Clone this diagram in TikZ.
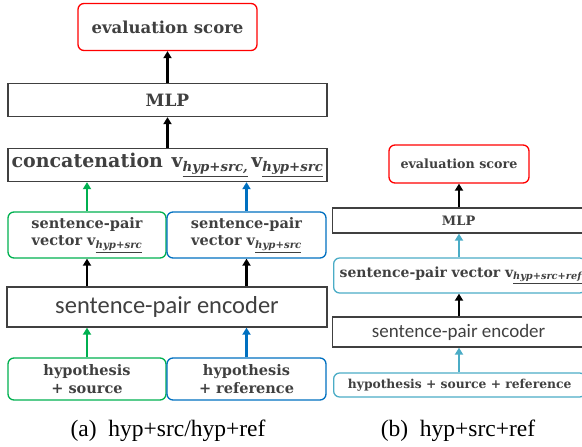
\documentclass[tikz,border=0pt]{standalone}
\usepackage{fontspec}
\setmainfont{Liberation Serif}
\newfontfamily\boxfont{DejaVu Serif}
\newfontfamily\encfont{Carlito}
\usepackage{xcolor}
\usetikzlibrary{arrows.meta}

\definecolor{txtgray}{HTML}{404040}
\definecolor{boxgray}{HTML}{404040}
\definecolor{srcgreen}{HTML}{00B050}
\definecolor{refblue}{HTML}{0070C0}
\definecolor{allblue}{HTML}{4BACC6}
\definecolor{scorered}{HTML}{FF0000}

\newcommand{\vsub}[1]{v\textsubscript{\itshape\underline{#1}}}
\newcommand{\fs}[1]{\boxfont\bfseries\fontsize{#1}{1.2\dimexpr#1pt\relax}\selectfont}

\begin{document}
\begin{tikzpicture}[x=1pt, y=-1pt, >={Triangle[length=7pt,width=8pt]},
  every box/.style={draw=boxgray, line width=1.3pt, text=txtgray, inner sep=2pt},
  plain box/.style={every box},
  round box/.style={every box, rounded corners=6pt, align=center},
  score box/.style={round box, draw=scorered},
  src box/.style={round box, draw=srcgreen},
  ref box/.style={round box, draw=refblue},
  all box/.style={round box, draw=allblue},
  flow/.style={->, line width=2.4pt},
  caption/.style={font=\fontsize{23.5}{26}\selectfont, text=black}]

\useasboundingbox (0,0) rectangle (582,447);
\clip (0,0) rectangle (582,447);

% (a) hyp+src/hyp+ref
\node [score box, minimum width=179pt, minimum height=47pt, font=\fs{16.5}] (scoreA) at (167.5,27) {evaluation score};
\node [plain box, minimum width=319pt, minimum height=33pt, font=\fs{17}] (mlpA) at (167.5,100) {MLP};
\node [plain box, minimum width=319pt, minimum height=33pt, font=\fs{19}] (concatA) at (167.5,165)
  {concatenation\ \hspace{2pt}\vsub{hyp+src,}\,\vsub{hyp+src}};
\node [src box, minimum width=158pt, minimum height=46pt, font=\fs{14.5}] (vecS) at (87,235) {sentence-pair\\vector \vsub{hyp+src}};
\node [ref box, minimum width=159pt, minimum height=46pt, font=\fs{14.5}] (vecR) at (246.5,235) {sentence-pair\\vector \vsub{hyp+src}};
\node [plain box, minimum width=320pt, minimum height=40pt, font=\encfont\fontsize{24.5}{28}\selectfont] (encA) at (167,307) {sentence-pair encoder};
\node [src box, minimum width=158pt, minimum height=42pt, font=\fs{14.5}] (inS) at (87,379) {hypothesis\\+ source};
\node [ref box, minimum width=159pt, minimum height=42pt, font=\fs{14.5}] (inR) at (246.5,379) {hypothesis\\+ reference};

\draw [flow] (mlpA.north) -- (scoreA.south);
\draw [flow] (concatA.north) -- (mlpA.south);
\draw [flow, srcgreen] (vecS.north) -- (vecS.north |- concatA.south);
\draw [flow, refblue] (vecR.north) -- (vecR.north |- concatA.south);
\draw [flow] (vecS.south |- encA.north) -- (vecS.south);
\draw [flow] (vecR.south |- encA.north) -- (vecR.south);
\draw [flow, srcgreen] (inS.north) -- (inS.north |- encA.south);
\draw [flow, refblue] (inR.north) -- (inR.north |- encA.south);

\node [caption] (capA) at (168,431) {(a)\ \ hyp+src/hyp+ref};

% (b) hyp+src+ref
\node [score box, minimum width=140pt, minimum height=38pt, font=\fs{12.7}] (scoreB) at (459,164) {evaluation score};
\node [plain box, anchor=west, minimum width=252pt, minimum height=25pt, font=\fs{13}] (mlpB) at (332,220.5) {MLP};
\node [all box, anchor=west, minimum width=252pt, minimum height=35pt, font=\fs{14}, text width=240pt, align=left] (vecB) at (333,275.5)
  {\mbox{sentence-pair vector \vsub{hyp+src+ref}}};
\node [plain box, anchor=west, minimum width=252pt, minimum height=30pt, font=\encfont\fontsize{19}{22}\selectfont] (encB) at (332,332) {sentence-pair encoder};
\node [all box, anchor=west, minimum width=252pt, minimum height=24pt, font=\fs{12.3}] (inB) at (333,385) {hypothesis + source + reference};

\draw [flow] (scoreB.south |- mlpB.north) -- (scoreB.south);
\draw [flow, allblue] (scoreB.south |- vecB.north) -- (scoreB.south |- mlpB.south);
\draw [flow] (scoreB.south |- encB.north) -- (scoreB.south |- vecB.south);
\draw [flow, allblue] (scoreB.south |- inB.north) -- (scoreB.south |- encB.south);

\node [caption] (capB) at (458,431) {(b)\ \ hyp+src+ref};

\end{tikzpicture}
\end{document}
